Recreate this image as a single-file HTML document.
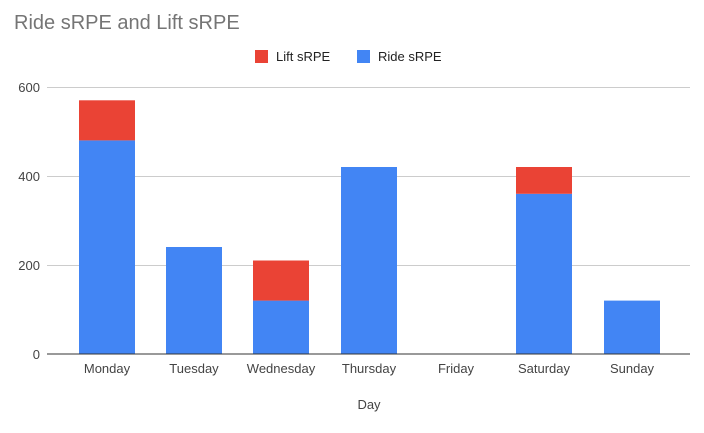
<!DOCTYPE html>
<html><head><meta charset="utf-8"><style>
html,body{margin:0;padding:0;background:#fff;}
svg{display:block;font-family:"Liberation Sans",Arial,sans-serif;}
</style></head><body>
<svg width="704" height="433" viewBox="0 0 704 433" xmlns="http://www.w3.org/2000/svg">
<rect width="704" height="433" fill="#fff"/>
<text x="14" y="29" font-size="20" fill="#757575">Ride sRPE and Lift sRPE</text>
<rect x="255" y="50" width="13" height="13" fill="#ea4335"/>
<text x="276" y="61" font-size="13" fill="#222">Lift sRPE</text>
<rect x="357" y="50" width="13" height="13" fill="#4285f4"/>
<text x="378" y="61" font-size="13" fill="#222">Ride sRPE</text>
<g stroke="#cccccc" stroke-width="1">
<line x1="47" y1="87.5" x2="690" y2="87.5"/>
<line x1="47" y1="176.5" x2="690" y2="176.5"/>
<line x1="47" y1="265.5" x2="690" y2="265.5"/>
</g>
<g font-size="13" fill="#444" text-anchor="end">
<text x="40" y="92">600</text>
<text x="40" y="181">400</text>
<text x="40" y="270">200</text>
<text x="40" y="359">0</text>
</g>
<g fill="#4285f4">
<rect x="79" y="140.4" width="56" height="213.6"/>
<rect x="166" y="247" width="56" height="107"/>
<rect x="253" y="300.6" width="56" height="53.4"/>
<rect x="341" y="167" width="56" height="187"/>
<rect x="516" y="193.8" width="56" height="160.2"/>
<rect x="604" y="300.6" width="56" height="53.4"/>
</g>
<g fill="#ea4335">
<rect x="79" y="100.3" width="56" height="40.1"/>
<rect x="253" y="260.5" width="56" height="40.1"/>
<rect x="516" y="167" width="56" height="26.8"/>
</g>
<line x1="47" y1="354" x2="690" y2="354" stroke="#333" stroke-width="1"/>
<g font-size="13" fill="#444" text-anchor="middle">
<text x="107" y="373">Monday</text>
<text x="194" y="373">Tuesday</text>
<text x="281" y="373">Wednesday</text>
<text x="369" y="373">Thursday</text>
<text x="456" y="373">Friday</text>
<text x="544" y="373">Saturday</text>
<text x="632" y="373">Sunday</text>
<text x="369" y="409">Day</text>
</g>
</svg>
</body></html>
